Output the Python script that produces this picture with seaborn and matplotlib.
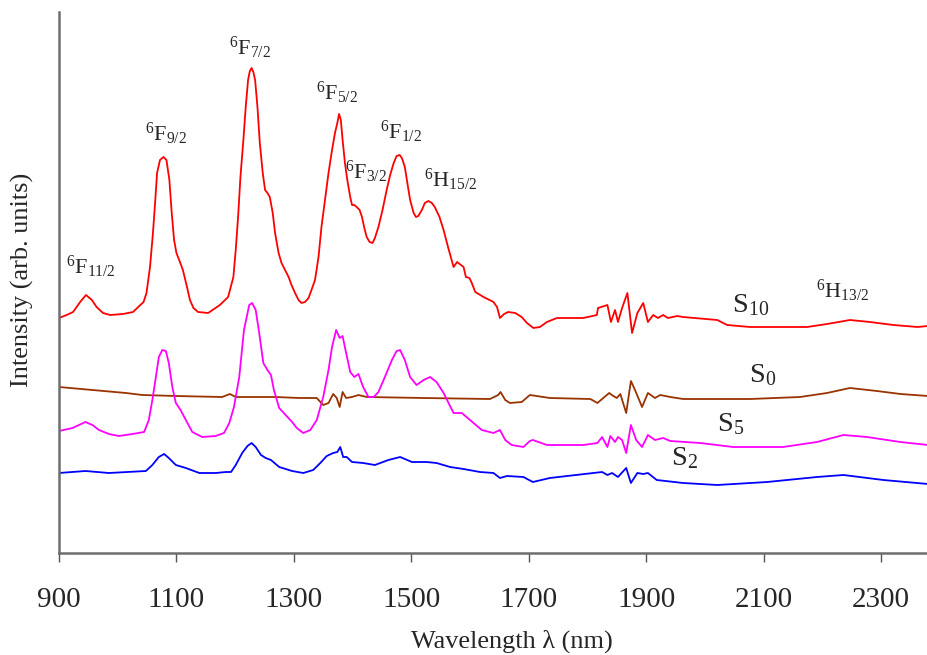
import numpy as np
import pandas as pd
import matplotlib
matplotlib.use("Agg")
import matplotlib.pyplot as plt
import seaborn as sns

# ---- data (intensity in arbitrary units) ----
s10_wl = [900, 913, 924, 936, 946, 956, 964, 975, 987, 1009, 1026, 1044, 1049, 1055, 1060, 1064,
          1067, 1072, 1078, 1083, 1088, 1092, 1096, 1100, 1106, 1111, 1118, 1123, 1129, 1137,
          1154, 1174, 1188, 1197, 1201, 1205, 1209, 1214, 1218, 1222, 1225, 1228, 1231, 1234,
          1238, 1242, 1247, 1251, 1255, 1259, 1264, 1268, 1274, 1279, 1285, 1291, 1296, 1302,
          1308, 1313, 1319, 1325, 1330, 1336, 1342, 1347, 1353, 1359, 1365, 1370, 1374, 1377,
          1380, 1383, 1387, 1391, 1396, 1399, 1403, 1407, 1412, 1416, 1420, 1424, 1429, 1434,
          1438, 1444, 1451, 1458, 1464, 1470, 1475, 1480, 1484, 1489, 1493, 1498, 1504, 1508,
          1512, 1518, 1523, 1529, 1535, 1540, 1548, 1555, 1563, 1572, 1578, 1589, 1593, 1599,
          1603, 1609, 1623, 1640, 1646, 1651, 1658, 1665, 1677, 1688, 1697, 1708, 1719, 1731,
          1748, 1793, 1816, 1818, 1834, 1840, 1847, 1852, 1859, 1868, 1876, 1885, 1895, 1903,
          1912, 1920, 1929, 1937, 1953, 1963, 2021, 2038, 2077, 2133, 2174, 2208, 2247, 2281,
          2321, 2362, 2380]
s10_int = [235, 238, 241, 251, 258, 253, 246, 240, 238, 239, 241, 251, 260, 286, 320, 353,
           380, 393, 396, 393, 373, 340, 313, 300, 291, 283, 266, 253, 245, 241,
           240, 248, 256, 276, 303, 336, 376, 413, 446, 473, 482, 485, 481, 473,
           446, 410, 380, 363, 360, 356, 340, 320, 300, 290, 283, 276, 268, 260,
           253, 250, 251, 255, 263, 273, 296, 326, 353, 380, 403, 420, 430, 439,
           433, 413, 390, 373, 356, 348, 348, 346, 343, 336, 325, 316, 311, 310,
           315, 326, 343, 363, 378, 390, 397, 398, 395, 386, 371, 353, 340, 336,
           337, 343, 350, 352, 350, 346, 336, 323, 305, 286, 291, 286, 276, 275,
           270, 261, 256, 251, 246, 235, 239, 241, 240, 236, 230, 225, 226, 231,
           235, 235, 238, 245, 248, 231, 243, 231, 245, 260, 220, 240, 250, 231,
           238, 235, 238, 235, 237, 236, 233, 228, 226, 226, 226, 229, 233, 231,
           228, 226, 227]

s0_wl = [900, 957, 1014, 1042, 1099, 1178, 1191, 1201, 1269, 1309, 1339, 1350, 1359, 1367, 1373,
         1378, 1383, 1389, 1399, 1410, 1424, 1521, 1634, 1648, 1652, 1660, 1668, 1688, 1702,
         1736, 1805, 1817, 1837, 1844, 1850, 1856, 1866, 1874, 1881, 1893, 1903, 1915, 1924,
         1941, 1963, 2077, 2162, 2208, 2247, 2293, 2333, 2380]
s0_int = [166, 163, 160, 158, 157, 156, 159, 156, 156, 155, 155, 148, 150, 159, 155,
          146, 161, 155, 156, 158, 156, 155, 154, 158, 161, 153, 150, 151, 158,
          155, 154, 150, 160, 157, 155, 159, 140, 172, 163, 146, 160, 155, 158,
          156, 154, 154, 156, 160, 165, 162, 159, 157]

s5_wl = [900, 923, 934, 945, 957, 968, 985, 1002, 1025, 1045, 1053, 1059, 1065, 1070, 1076,
         1082, 1087, 1093, 1099, 1107, 1116, 1127, 1144, 1167, 1181, 1190, 1198, 1207, 1215,
         1224, 1229, 1235, 1241, 1248, 1255, 1261, 1266, 1275, 1286, 1297, 1305, 1316, 1328,
         1339, 1350, 1359, 1365, 1372, 1378, 1383, 1389, 1396, 1403, 1410, 1418, 1427, 1436,
         1444, 1455, 1467, 1475, 1481, 1489, 1498, 1509, 1521, 1532, 1543, 1555, 1572, 1586,
         1600, 1620, 1640, 1651, 1660, 1671, 1691, 1702, 1707, 1731, 1793, 1817, 1825, 1834,
         1839, 1847, 1852, 1859, 1866, 1874, 1883, 1893, 1903, 1915, 1929, 1941, 1992, 2048,
         2133, 2191, 2236, 2276, 2333, 2380]
s5_int = [122, 125, 128, 131, 128, 123, 119, 117, 119, 121, 133, 153, 176, 196, 203,
          202, 190, 166, 150, 143, 133, 121, 116, 117, 120, 130, 146, 176, 223,
          248, 250, 243, 220, 190, 183, 178, 163, 145, 138, 131, 125, 120, 123,
          133, 156, 183, 206, 223, 215, 217, 200, 181, 176, 179, 166, 156, 156,
          161, 176, 193, 202, 203, 193, 176, 168, 173, 176, 171, 160, 140, 140,
          133, 123, 120, 123, 113, 108, 106, 112, 113, 108, 108, 110, 116, 106,
          117, 111, 116, 113, 100, 128, 113, 106, 118, 113, 115, 112, 110, 106,
          106, 111, 118, 116, 111, 108]

s2_wl = [900, 945, 985, 1048, 1059, 1070, 1079, 1087, 1099, 1116, 1139, 1167, 1184, 1193, 1201,
         1212, 1221, 1228, 1235, 1244, 1252, 1261, 1275, 1297, 1316, 1333, 1345, 1356, 1367,
         1374, 1379, 1384, 1390, 1399, 1418, 1438, 1461, 1481, 1501, 1526, 1543, 1566, 1589,
         1617, 1640, 1651, 1663, 1691, 1707, 1736, 1810, 1825, 1834, 1842, 1852, 1866, 1874,
         1885, 1895, 1903, 1918, 1963, 2021, 2106, 2191, 2236, 2304, 2380]
s2_int = [80, 82, 80, 82, 88, 96, 99, 95, 88, 85, 80, 80, 81, 81, 88,
          100, 107, 110, 106, 98, 95, 93, 86, 82, 80, 83, 90, 97, 100,
          101, 106, 96, 96, 91, 90, 88, 93, 96, 91, 91, 90, 86, 84,
          81, 80, 75, 77, 76, 71, 75, 80, 81, 78, 80, 76, 85, 70,
          80, 79, 80, 73, 70, 68, 71, 76, 78, 73, 69]

series_names = ["S10", "S0", "S5", "S2"]
series_colors = ["#ff0000", "#993300", "#ff00ff", "#0000ff"]

level_labels = [r"$\mathregular{^6F_{11/2}}$", r"$\mathregular{^6F_{9/2}}$", r"$\mathregular{^6F_{7/2}}$",
                r"$\mathregular{^6F_{5/2}}$", r"$\mathregular{^6F_{3/2}}$", r"$\mathregular{^6F_{1/2}}$",
                r"$\mathregular{^6H_{15/2}}$", r"$\mathregular{^6H_{13/2}}$"]
sample_labels = [r"$\mathregular{S_{10}}$", r"$\mathregular{S_{0}}$", r"$\mathregular{S_{5}}$", r"$\mathregular{S_{2}}$"]
x_ticks = [900, 1100, 1300, 1500, 1700, 1900, 2100, 2300]

# ---- build long table ----
frames = []
for name, wl, it in zip(series_names,
                        [s10_wl, s0_wl, s5_wl, s2_wl],
                        [s10_int, s0_int, s5_int, s2_int]):
    frames.append(pd.DataFrame({"wl": wl, "int": it, "sample": name}))
df = pd.concat(frames, ignore_index=True)

sns.set_style("white")
plt.rcParams["font.family"] = ["Liberation Serif", "DejaVu Serif"]
plt.rcParams["mathtext.fontset"] = "custom"
plt.rcParams["mathtext.rm"] = "Liberation Serif"
plt.rcParams["mathtext.it"] = "Liberation Serif:italic"
plt.rcParams["mathtext.bf"] = "Liberation Serif:bold"

fig = plt.figure(figsize=(9.28, 6.55), dpi=100)
ax = fig.add_axes([59 / 928, 102 / 655, 869 / 928, 541 / 655])

sns.lineplot(data=df, x="wl", y="int", hue="sample", palette=dict(zip(series_names, series_colors)),
             hue_order=series_names, estimator=None, sort=False, linewidth=1.3, legend=False, ax=ax)

ax.set_xlim(900, 2380)
ax.set_ylim(0, 541)
ax.set_xticks(x_ticks)
ax.set_xticklabels([str(t) for t in x_ticks], fontsize=21)
ax.set_yticks([])
ax.tick_params(axis="x", direction="out", length=6.5, width=1.0, color="#555555", pad=18,
               bottom=True)
for side in ["top", "right"]:
    ax.spines[side].set_visible(False)
for side in ["left", "bottom"]:
    ax.spines[side].set_color("#6e6e6e")
    ax.spines[side].set_linewidth(1.8)

ax.set_xlabel("Wavelength λ (nm)", fontsize=18.9)
ax.xaxis.set_label_coords((512 - 59) / 869, (553 - 630) / 541)
ax.set_ylabel("Intensity (arb. units)", fontsize=18.9)
ax.yaxis.set_label_coords((34 - 59) / 869, (553 - 280) / 541)

level_pos = [(954, 286), (1082, 419), (1225, 505), (1374, 460), (1423, 381), (1483, 421),
             (1568, 373), (2234, 262)]
for lab, (x, y) in zip(level_labels, level_pos):
    ax.text(x, y, lab, fontsize=16, ha="center", va="center")

sample_pos = [(2077, 248), (2098, 178), (2043, 129), (1966, 95)]
for lab, (x, y) in zip(sample_labels, sample_pos):
    ax.text(x, y, lab, fontsize=20.5, ha="center", va="center")

fig.savefig("out.png", dpi=100)
